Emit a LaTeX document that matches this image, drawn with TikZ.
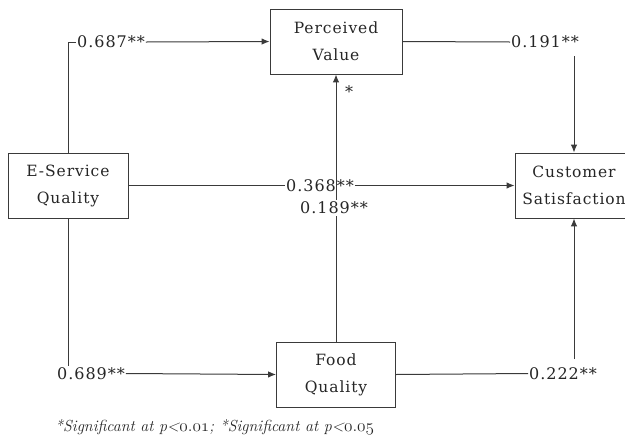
\documentclass[tikz,border=0pt]{standalone}
\usepackage{fontspec}
\newfontfamily\boxfont[LetterSpace=6]{DejaVu Serif}
\newfontfamily\labfont[LetterSpace=6]{DejaVu Serif}
\usetikzlibrary{arrows.meta}
\definecolor{ln}{HTML}{3a3a3a}
\newcommand{\osn}[1]{{\usefont{OML}{cmm}{m}{it}#1}}
\tikzset{
  box/.style={draw=ln, line width=0.9pt, align=center, inner sep=0pt,
    font=\boxfont\fontsize{15.5}{27}\selectfont, text=black!85},
  lab/.style={inner sep=1pt, font=\labfont\fontsize{16}{18}\selectfont, text=black!85},
  conn/.style={draw=ln, line width=1pt},
  arr/.style={conn, -{Latex[length=8pt,width=6.5pt]}}
}
\begin{document}
\begin{tikzpicture}[x=1pt,y=-1pt]
\useasboundingbox (0,0) rectangle (625,440);
\fill[white] (0,0) rectangle (625,440);
% boxes
\node[box, minimum width=132pt, minimum height=65pt] (pv) at (336,41.5) {Perceived\\Value};
\node[box, minimum width=120pt, minimum height=65pt] (esq) at (68,185.5) {E-Service\\Quality};
\node[box, minimum width=118pt, minimum height=65pt] (cs) at (574,185.5) {Customer\\Satisfaction};
\node[box, minimum width=119pt, minimum height=65pt] (fq) at (336,374.5) {Food\\Quality};
% labels
\node[lab] (l1) at (111,42) {0.687**};
\node[lab] (l2) at (545,42) {0.191**};
\node[lab] (l3) at (320,185.5) {0.368**};
\node[lab] (l5) at (91,373.5) {0.689**};
\node[lab] (l6) at (563,373.5) {0.222**};
\coordinate (c2) at (574,56);
\coordinate (c6) at (574,359);
% connectors
\draw[conn] (esq.north) |- (l1.west);
\draw[arr] (l1.east) -- (pv.west);
\draw[conn] (pv.east) -- (l2.west);
\draw[arr] (c2) -- (cs.north);
\draw[conn] (esq.east) -- (l3.west);
\draw[arr] (l3.east) -- (cs.west);
\draw[arr] (fq.north) -- (pv.south);
\node[lab, fill=white, inner sep=2pt] (l4) at (334,208) {0.189**};
\node[lab] (st) at (349,92) {*};
\draw[conn] (esq.south) -- (esq.south |- l5.north);
\draw[arr] (l5.east) -- (fq.west);
\draw[conn] (fq.east) -- (l6.west);
\draw[arr] (c6) -- (cs.south);
% caption
\node[anchor=west, inner sep=0pt, text=black!85, font=\fontsize{16}{18}\selectfont\itshape] (cap) at (55,427)
  {*Significant at \textit{p}<\osn{0\char58 01}; *Significant at \textit{p}<\osn{0\char58 05}};
\end{tikzpicture}
\end{document}
